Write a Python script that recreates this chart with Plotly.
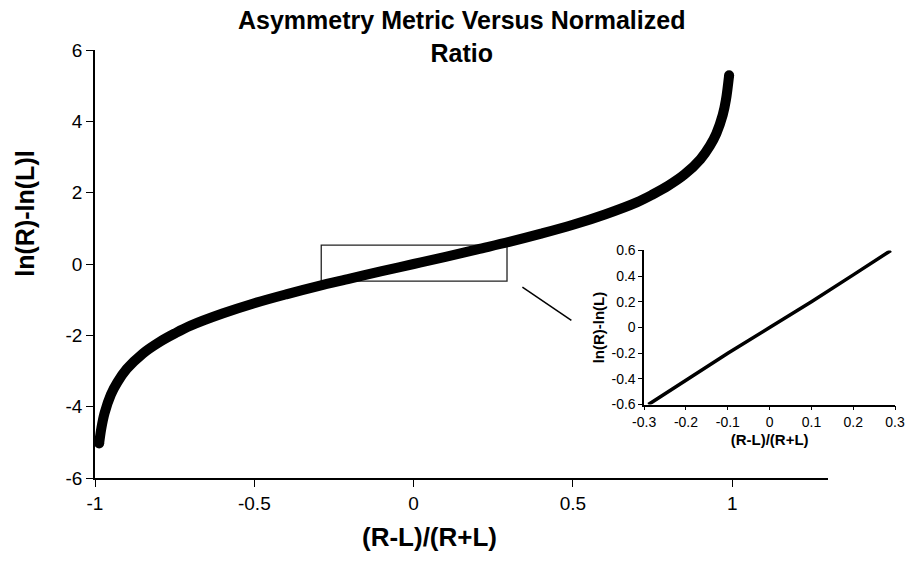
import plotly.graph_objects as go

# ---------------- data ----------------
ratio_x = [-0.987, -0.98, -0.97, -0.95, -0.93, -0.90, -0.85, -0.80, -0.75, -0.70,
           -0.60, -0.50, -0.40, -0.30, -0.20, -0.10, 0.0, 0.10, 0.20, 0.30,
           0.40, 0.50, 0.60, 0.70, 0.75, 0.80, 0.85, 0.90, 0.93, 0.95,
           0.97, 0.98, 0.99]
metric_y = [-5.03, -4.60, -4.18, -3.66, -3.32, -2.94, -2.51, -2.20, -1.95, -1.73,
            -1.39, -1.10, -0.85, -0.62, -0.41, -0.20, 0.0, 0.20, 0.41, 0.62,
            0.85, 1.10, 1.39, 1.73, 1.95, 2.20, 2.51, 2.94, 3.32, 3.66,
            4.18, 4.60, 5.29]

inset_x = [-0.29, -0.2, -0.1, 0.0, 0.1, 0.2, 0.29]
inset_y = [-0.60, -0.41, -0.20, 0.0, 0.20, 0.41, 0.60]

main_xticks = [-1, -0.5, 0, 0.5, 1]
main_xticklabels = ["-1", "-0.5", "0", "0.5", "1"]
main_yticks = [-6, -4, -2, 0, 2, 4, 6]
main_yticklabels = ["-6", "-4", "-2", "0", "2", "4", "6"]
inset_xticks = [-0.3, -0.2, -0.1, 0, 0.1, 0.2, 0.3]
inset_xticklabels = ["-0.3", "-0.2", "-0.1", "0", "0.1", "0.2", "0.3"]
inset_yticks = [-0.6, -0.4, -0.2, 0, 0.2, 0.4, 0.6]
inset_yticklabels = ["-0.6", "-0.4", "-0.2", "0", "0.2", "0.4", "0.6"]

title_line1 = "Asymmetry Metric Versus Normalized"
title_line2 = "Ratio"
x_title = "(R-L)/(R+L)"
y_title = "ln(R)-ln(L)l"
inset_x_title = "(R-L)/(R+L)"
inset_y_title = "ln(R)-ln(L)"

# ---------------- layout geometry (pixels) ----------------
W, H = 918, 561
ML, MR, MT, MB = 95, 8, 50, 82.5
PW = W - ML - MR
PH = H - MT - MB


def px(x):
    return (x - ML) / PW


def py(y):
    return (H - MB - y) / PH


FONT = "Liberation Sans, Arial, Helvetica, sans-serif"

fig = go.Figure()
fig.add_trace(go.Scatter(x=ratio_x, y=metric_y, mode="lines",
                         line=dict(color="black", width=10, shape="spline"),
                         xaxis="x", yaxis="y", showlegend=False, hoverinfo="skip"))
fig.add_trace(go.Scatter(x=[ratio_x[0], ratio_x[-1]], y=[metric_y[0], metric_y[-1]],
                         mode="markers", marker=dict(color="black", size=10),
                         xaxis="x", yaxis="y", showlegend=False, hoverinfo="skip"))
fig.add_trace(go.Scatter(x=inset_x, y=inset_y, mode="lines",
                         line=dict(color="black", width=3.5),
                         xaxis="x2", yaxis="y2", showlegend=False, hoverinfo="skip"))

axis_common = dict(showgrid=False, zeroline=False, showline=True, linecolor="black",
                   ticks="outside", tickcolor="black")

fig.update_layout(
    width=W, height=H,
    margin=dict(l=ML, r=MR, t=MT, b=MB),
    paper_bgcolor="white", plot_bgcolor="white",
    font=dict(family=FONT, color="black"),
    xaxis=dict(domain=[0, px(837)], range=[-1, 1.3], anchor="y",
               tickvals=main_xticks, ticktext=main_xticklabels,
               ticklen=7, tickwidth=1.3, linewidth=1.5,
               tickfont=dict(size=19), **axis_common),
    yaxis=dict(domain=[0, 1], range=[-6, 6], anchor="x",
               tickvals=main_yticks, ticktext=main_yticklabels,
               ticklen=7, tickwidth=1.3, linewidth=1.5,
               tickfont=dict(size=19), **axis_common),
    xaxis2=dict(domain=[px(651), px(905)], range=[-0.3, 0.3], anchor="y2",
                tickvals=inset_xticks, ticktext=inset_xticklabels,
                ticklen=4, tickwidth=1.2, linewidth=1.5,
                tickfont=dict(size=14),
                title=dict(text="<b>" + inset_x_title + "</b>", font=dict(size=15), standoff=5),
                **axis_common),
    yaxis2=dict(domain=[py(405), py(250.7)], range=[-0.6, 0.6], anchor="x2",
                tickvals=inset_yticks, ticktext=inset_yticklabels,
                ticklen=4, tickwidth=1.2, linewidth=1.5,
                tickfont=dict(size=14),
                title=dict(text="<b>" + inset_y_title + "</b>", font=dict(size=15), standoff=3),
                **axis_common),
    shapes=[
        dict(type="rect", xref="x", yref="y", x0=-0.29, x1=0.293, y0=-0.48, y1=0.53,
             line=dict(color="#222222", width=1.3), layer="below"),
        dict(type="line", xref="paper", yref="paper",
             x0=px(527.7), y0=py(287.3), x1=px(577.3), y1=py(320.7),
             line=dict(color="black", width=1.5)),
    ],
    annotations=[
        dict(text="<b>" + title_line1 + "<br>" + title_line2 + "</b>",
             xref="paper", yref="paper", x=px(466), y=py(36),
             xanchor="center", yanchor="middle", showarrow=False,
             font=dict(size=25)),
        dict(text="<b>" + x_title + "</b>", xref="paper", yref="paper",
             x=px(434), y=py(538), xanchor="center", yanchor="middle",
             showarrow=False, font=dict(size=26)),
        dict(text="<b>" + y_title + "</b>", xref="paper", yref="paper",
             x=px(24), y=py(214), xanchor="center", yanchor="middle",
             textangle=-90, showarrow=False, font=dict(size=25)),
    ],
)

fig.write_html("out.html")
